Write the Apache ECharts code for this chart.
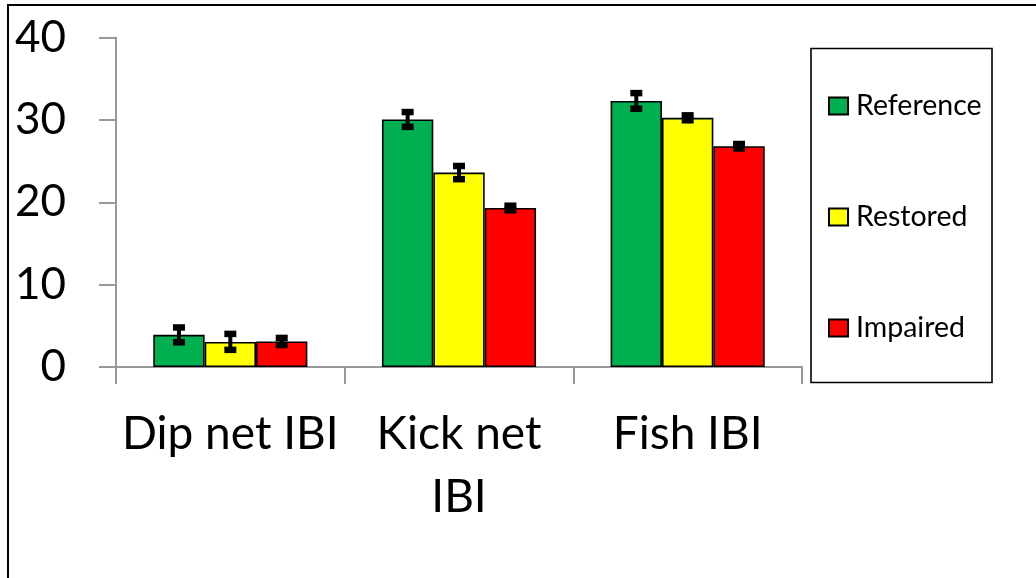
<!DOCTYPE html>
<html><head><meta charset="utf-8">
<script src="https://cdn.jsdelivr.net/npm/echarts@6/dist/echarts.min.js"></script>
<style>html,body{margin:0;padding:0;background:#fff}#c{width:1036px;height:578px}</style>
</head><body><div id="c"></div>
<script>
const categories = ['Dip net IBI', 'Kick net IBI', 'Fish IBI'];
const xTickLabels = ['Dip net IBI', 'Kick net\nIBI', 'Fish IBI'];
const yTicks = [0, 10, 20, 30, 40];
const seriesNames = ['Reference', 'Restored', 'Impaired'];
const referenceMean = [3.9, 30.05, 32.3];
const referenceErr = [0.9, 0.9, 0.95];
const restoredMean = [3.05, 23.6, 30.25];
const restoredErr = [0.97, 0.8, 0.3];
const impairedMean = [3.1, 19.3, 26.8];
const impairedErr = [0.43, 0.28, 0.27];
const colors = ['#00B050', '#FFFF00', '#FF0000'];

const means = [referenceMean, restoredMean, impairedMean];
const errs = [referenceErr, restoredErr, impairedErr];
const FONT = 'Lato';
const CATGAP = 0.326;

const barSeries = seriesNames.map((n, k) => ({
  name: n, type: 'bar', data: means[k],
  barGap: '0%', barCategoryGap: (CATGAP * 100) + '%',
  itemStyle: { color: colors[k], borderColor: '#000', borderWidth: 1.6 },
  emphasis: { disabled: true }, z: 2
}));

const errSeries = seriesNames.map((n, k) => ({
  name: n + ' err', type: 'custom', z: 5, silent: true,
  data: categories.map((c, i) => [i, means[k][i], errs[k][i]]),
  renderItem: function (params, api) {
    const i = api.value(0), m = api.value(1), e = api.value(2);
    const band = api.size([1, 0])[0];
    const bw = band * (1 - CATGAP) / 3;
    const cx = api.coord([i, m])[0] + (k - 1) * bw;
    const yt = api.coord([i, m + e])[1];
    const yb = api.coord([i, m - e])[1];
    const capW = 12, capH = 6.5, stemW = 4;
    return { type: 'group', children: [
      { type: 'rect', shape: { x: cx - stemW / 2, y: yt, width: stemW, height: yb - yt }, style: { fill: '#000' } },
      { type: 'rect', shape: { x: cx - capW / 2, y: yt - capH / 2, width: capW, height: capH }, style: { fill: '#000' } },
      { type: 'rect', shape: { x: cx - capW / 2, y: yb - capH / 2, width: capW, height: capH }, style: { fill: '#000' } }
    ]};
  },
  encode: { x: 0, y: 1 }
}));

const chart = echarts.init(document.getElementById('c'), null, { renderer: 'canvas' });
chart.setOption({
  animation: false,
  backgroundColor: '#fff',
  textStyle: { fontFamily: FONT },
  graphic: [
    { type: 'rect', shape: { x: 8, y: 5, width: 1200, height: 800 }, style: { fill: 'none', stroke: '#000', lineWidth: 2 }, z: 0 },
    { type: 'rect', shape: { x: 811, y: 48.5, width: 181, height: 334 }, style: { fill: '#fff', stroke: '#000', lineWidth: 1.6 }, z: 1 }
  ],
  legend: {
    data: seriesNames.map(n => ({ name: n, icon: 'rect' })), orient: 'vertical', left: 823, top: 85,
    itemWidth: 19, itemHeight: 17, itemGap: 79,
    textStyle: { fontFamily: FONT, fontSize: 28.5, color: '#000', lineHeight: 32, padding: [0, 0, 0, 3] },
    selectedMode: false, z: 10
  },
  grid: { left: 116, right: 234, top: 37.5, bottom: 211, containLabel: false },
  xAxis: {
    type: 'category', data: categories,
    axisLine: { lineStyle: { color: '#999', width: 2 } },
    axisTick: { show: true, length: 17, lineStyle: { color: '#999', width: 2 }, alignWithLabel: false },
    axisLabel: {
      margin: 36, fontFamily: FONT, fontSize: 46, color: '#000', lineHeight: 63,
      interval: 0, formatter: (v, idx) => xTickLabels[idx]
    }
  },
  yAxis: {
    type: 'value', min: yTicks[0], max: yTicks[yTicks.length - 1], interval: 10,
    axisLine: { show: true, lineStyle: { color: '#999', width: 2 } },
    axisTick: { show: true, length: 17, lineStyle: { color: '#999', width: 2 } },
    splitLine: { show: false },
    axisLabel: { margin: 50, fontFamily: FONT, fontSize: 44, color: '#000' }
  },
  series: barSeries.concat(errSeries)
});
</script></body></html>
